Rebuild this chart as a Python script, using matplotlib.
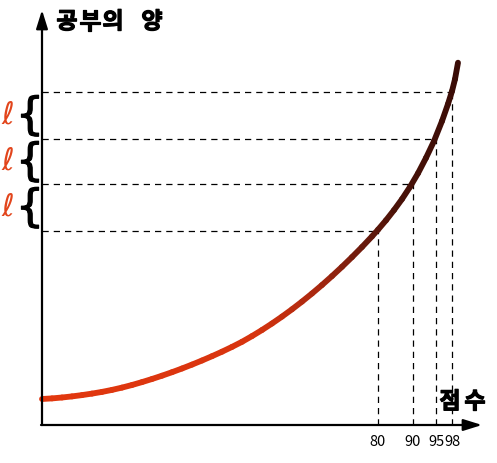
# Diagram: the amount of study needed grows faster and faster as the score goes up.
# Equal steps of study (l) give smaller and smaller gains in score.

import matplotlib.patheffects as pe
import matplotlib.pyplot as plt
import numpy as np
from matplotlib.collections import LineCollection
from matplotlib.colors import LinearSegmentedColormap

# Curve (x: position along the score axis, y: amount of study).
curve_x = [0, 10, 20, 30, 40, 50, 60, 70, 80, 90, 100, 110, 120, 130, 140, 150,
           160, 170, 180, 190, 200, 210, 220, 230, 240, 250, 260, 270, 280, 290,
           300, 310, 320, 330, 336, 344, 352, 360, 368, 376, 384, 392, 400, 406,
           410, 413, 416]
curve_y = [26, 26.6, 27.5, 28.6, 29.9, 31.4, 33.1, 35.1, 37.4, 40.0, 42.9, 46.0,
           49.3, 52.8, 56.5, 60.4, 64.5, 68.8, 73.3, 78.1, 83.2, 88.9, 95.0,
           101.5, 108.4, 115.7, 123.4, 131.5, 140.0, 148.9, 158.2, 167.9, 178.0,
           188.6, 195.3, 204.7, 214.9, 225.9, 238.1, 251.7, 267.1, 283.9, 303.9,
           321.0, 333.8, 345.8, 362.3]

# Marked scores and the study levels they meet on the curve.
score_pos = [336, 371, 394, 410]
score_labels = ["80", "90", "95", "98"]
study_levels = [194, 241, 286, 333]

title_y_chars = ["공", "부", "의", "양"]
title_x_chars = ["점", "수"]
step_label = r"$\ell$"

KO_FONT = ["Noto Sans CJK KR", "DejaVu Sans"]


def main() -> None:
    plt.ioff()

    fig = plt.figure(figsize=(4.97, 4.63), dpi=100)
    ax = fig.add_axes([42 / 497, 38 / 463, 440 / 497, 415 / 463])
    ax.set_xlim(0, 440)
    ax.set_ylim(0, 415)
    for spine in ax.spines.values():
        spine.set_visible(False)

    # Axes as arrows.
    arrow = dict(arrowstyle="-|>,head_length=0.8,head_width=0.25",
                 mutation_scale=14, lw=1.6, color="black",
                 shrinkA=0, shrinkB=0)
    ax.annotate("", xy=(0, 415), xytext=(0, 0), arrowprops=arrow,
                annotation_clip=False)
    ax.annotate("", xy=(440, 0), xytext=(-1, 0), arrowprops=arrow,
                annotation_clip=False)

    # Curve with a red -> dark brown gradient.
    cmap = LinearSegmentedColormap.from_list(
        "study",
        [(0.0, "#e2380f"), (0.5, "#d8340f"), (0.66, "#a82810"),
         (0.76, "#6a1a0c"), (0.85, "#4a1208"), (1.0, "#3a0c06")],
    )
    pts = np.column_stack([curve_x, curve_y]).reshape(-1, 1, 2)
    segs = np.concatenate([pts[:-1], pts[1:]], axis=1)
    lc = LineCollection(segs, cmap=cmap, norm=plt.Normalize(0, 416),
                        linewidth=4.2, capstyle="round", joinstyle="round")
    lc.set_array(np.array(curve_x[:-1], dtype=float))
    lc.set_clip_on(False)
    ax.add_collection(lc)

    # Dashed guide lines to both axes.
    dash = dict(color="black", lw=0.9, linestyle=(0, (5, 4)), zorder=1)
    for x, y in zip(score_pos, study_levels):
        ax.plot([0, x], [y, y], **dash)
        ax.plot([x, x], [0, y], **dash)

    # Score tick labels.
    ax.set_xticks(score_pos, labels=score_labels)
    ax.set_yticks([])
    ax.tick_params(axis="x", length=0, pad=7)
    for lab in ax.get_xticklabels():
        lab.set_fontfamily(KO_FONT)
        lab.set_fontsize(10.5)

    # Braces with l between consecutive study levels.
    for lo, hi in zip(study_levels[:-1], study_levels[1:]):
        mid = (lo + hi) / 2 - 1
        ax.text(-12, mid, "{", fontsize=32, ha="center", va="center",
                color="black", clip_on=False,
                family=["Liberation Sans Narrow", "DejaVu Sans"],
                path_effects=[pe.withStroke(linewidth=0.8, foreground="black")])
        ax.text(-34, mid + 1, step_label, fontsize=22, ha="center", va="center",
                color="#e2451c", clip_on=False)

    # Axis titles, one character at a time for the wide spacing.
    bold = [pe.withStroke(linewidth=0.9, foreground="black")]
    for ch, x in zip(title_y_chars, [25, 48, 71, 110]):
        ax.text(x, 403, ch, fontsize=16.5, fontweight="bold", family=KO_FONT,
                ha="center", va="center", clip_on=False, path_effects=bold)
    for ch, x in zip(title_x_chars, [408, 433]):
        ax.text(x, 23, ch, fontsize=16.5, fontweight="bold", family=KO_FONT,
                ha="center", va="center", clip_on=False, path_effects=bold)

    fig.savefig("out.png", dpi=100, facecolor="white")


if __name__ == "__main__":
    main()
